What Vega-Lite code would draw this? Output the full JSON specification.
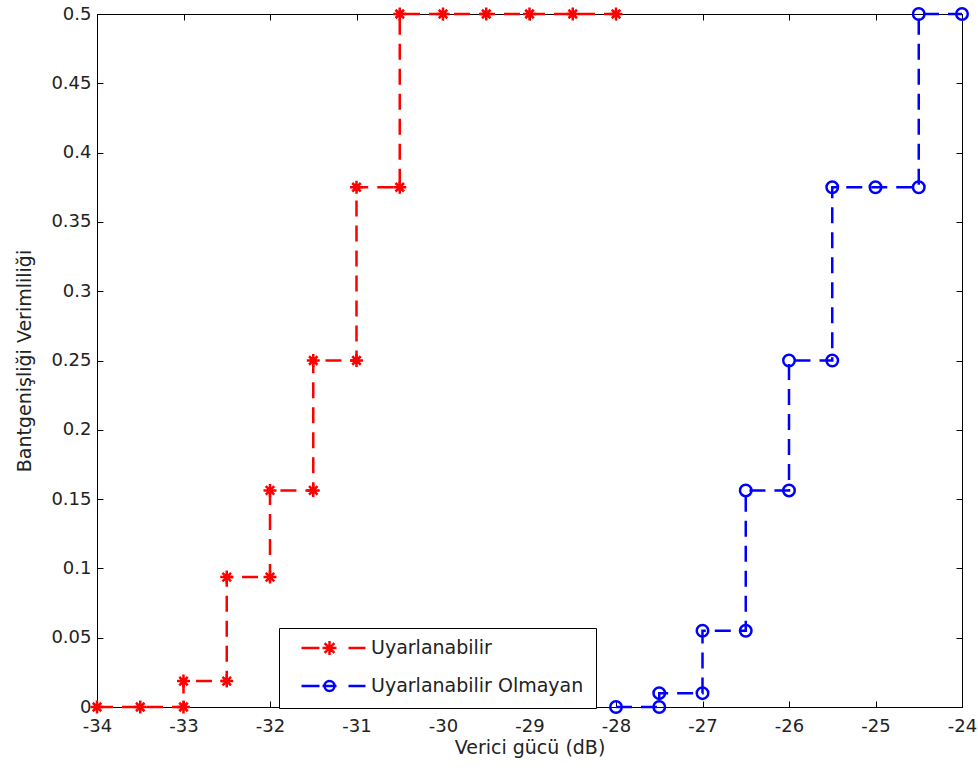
{
  "$schema": "https://vega.github.io/schema/vega-lite/v6.json",
  "width": 865,
  "height": 693,
  "autosize": {"type": "none"},
  "padding": {"left": 97, "top": 14, "right": 16, "bottom": 71},
  "background": "white",
  "config": {
    "view": {"stroke": "black", "strokeWidth": 1},
    "font": "DejaVu Sans",
    "axis": {
      "labelFont": "DejaVu Sans",
      "titleFont": "DejaVu Sans",
      "labelFontSize": 18,
      "titleFontSize": 19,
      "titleFontWeight": "normal",
      "labelColor": "#222222",
      "titleColor": "#222222",
      "domainColor": "black",
      "tickColor": "black",
      "grid": false,
      "tickSize": -6,
      "tickWidth": 1,
      "labelFlush": false,
      "labelOverlap": false
    }
  },
  "data": {
    "values": [
      {"series": "Uyarlanabilir", "i": 1, "x": -34, "y": 0},
      {"series": "Uyarlanabilir", "i": 2, "x": -33.5, "y": 0},
      {"series": "Uyarlanabilir", "i": 3, "x": -33, "y": 0},
      {"series": "Uyarlanabilir", "i": 4, "x": -33, "y": 0.01875},
      {"series": "Uyarlanabilir", "i": 5, "x": -32.5, "y": 0.01875},
      {"series": "Uyarlanabilir", "i": 6, "x": -32.5, "y": 0.09375},
      {"series": "Uyarlanabilir", "i": 7, "x": -32, "y": 0.09375},
      {"series": "Uyarlanabilir", "i": 8, "x": -32, "y": 0.15625},
      {"series": "Uyarlanabilir", "i": 9, "x": -31.5, "y": 0.15625},
      {"series": "Uyarlanabilir", "i": 10, "x": -31.5, "y": 0.25},
      {"series": "Uyarlanabilir", "i": 11, "x": -31, "y": 0.25},
      {"series": "Uyarlanabilir", "i": 12, "x": -31, "y": 0.375},
      {"series": "Uyarlanabilir", "i": 13, "x": -30.5, "y": 0.375},
      {"series": "Uyarlanabilir", "i": 14, "x": -30.5, "y": 0.5},
      {"series": "Uyarlanabilir", "i": 15, "x": -30, "y": 0.5},
      {"series": "Uyarlanabilir", "i": 16, "x": -29.5, "y": 0.5},
      {"series": "Uyarlanabilir", "i": 17, "x": -29, "y": 0.5},
      {"series": "Uyarlanabilir", "i": 18, "x": -28.5, "y": 0.5},
      {"series": "Uyarlanabilir", "i": 19, "x": -28, "y": 0.5},
      {"series": "Uyarlanabilir Olmayan", "i": 1, "x": -28, "y": 0},
      {"series": "Uyarlanabilir Olmayan", "i": 2, "x": -27.5, "y": 0},
      {"series": "Uyarlanabilir Olmayan", "i": 3, "x": -27.5, "y": 0.01},
      {"series": "Uyarlanabilir Olmayan", "i": 4, "x": -27, "y": 0.01},
      {"series": "Uyarlanabilir Olmayan", "i": 5, "x": -27, "y": 0.055},
      {"series": "Uyarlanabilir Olmayan", "i": 6, "x": -26.5, "y": 0.055},
      {"series": "Uyarlanabilir Olmayan", "i": 7, "x": -26.5, "y": 0.15625},
      {"series": "Uyarlanabilir Olmayan", "i": 8, "x": -26, "y": 0.15625},
      {"series": "Uyarlanabilir Olmayan", "i": 9, "x": -26, "y": 0.25},
      {"series": "Uyarlanabilir Olmayan", "i": 10, "x": -25.5, "y": 0.25},
      {"series": "Uyarlanabilir Olmayan", "i": 11, "x": -25.5, "y": 0.375},
      {"series": "Uyarlanabilir Olmayan", "i": 12, "x": -25, "y": 0.375},
      {"series": "Uyarlanabilir Olmayan", "i": 13, "x": -24.5, "y": 0.375},
      {"series": "Uyarlanabilir Olmayan", "i": 14, "x": -24.5, "y": 0.5},
      {"series": "Uyarlanabilir Olmayan", "i": 15, "x": -24, "y": 0.5}
    ]
  },
  "layer": [
    {
      "mark": {"type": "line", "strokeWidth": 2.5, "strokeDash": [16, 9]},
      "encoding": {
        "x": {
          "field": "x", "type": "quantitative",
          "scale": {"domain": [-34, -24], "nice": false, "zero": false},
          "axis": {
            "orient": "bottom",
            "title": "Verici gücü (dB)",
            "values": [-34, -33, -32, -31, -30, -29, -28, -27, -26, -25, -24],
            "labelExpr": "toString(datum.value)",
            "labelPadding": 16,
            "titlePadding": 3
          }
        },
        "y": {
          "field": "y", "type": "quantitative",
          "scale": {"domain": [0, 0.5], "nice": false, "zero": false},
          "axis": {
            "orient": "left",
            "title": "Bantgenişliği Verimliliği",
            "values": [0, 0.05, 0.1, 0.15, 0.2, 0.25, 0.3, 0.35, 0.4, 0.45, 0.5],
            "labelExpr": "toString(datum.value)",
            "labelPadding": 12,
            "titlePadding": 16
          }
        },
        "color": {
          "field": "series", "type": "nominal",
          "scale": {"domain": ["Uyarlanabilir", "Uyarlanabilir Olmayan"], "range": ["#ff0000", "#0000ff"]},
          "legend": {
            "orient": "none",
            "legendX": 182,
            "legendY": 614,
            "title": null,
            "strokeColor": "black",
            "fillColor": "white",
            "padding": 12,
            "labelFont": "DejaVu Sans",
            "labelFontSize": 19,
            "labelColor": "#222222",
            "labelLimit": 400,
            "symbolSize": 196,
            "symbolStrokeWidth": 2,
            "symbolOffset": 33,
            "labelOffset": 28,
            "clipHeight": 16,
            "rowPadding": 19,
            "encode": {
              "symbols": {
                "update": {
                  "shape": {"signal": "datum.value === 'Uyarlanabilir' ? 'M-4.57,0H-2M-1.57,0H0.43M2.14,0H4.57M-0.57,-1V1M-1.27,-0.7L0.13,0.7M-1.27,0.7L0.13,-0.7' : 'M-4.57,0H-2M-1.57,0H0.43M2.14,0H4.57M0.14,0A0.71,0.71 0 1,1 -1.28,0A0.71,0.71 0 1,1 0.14,0'"},
                  "size": {"value": 196},
                  "strokeWidth": {"value": 2.5},
                  "fill": {"value": "transparent"}
                }
              }
            }
          }
        },
        "order": {"field": "i", "type": "quantitative"}
      }
    },
    {
      "transform": [{"filter": "datum.series === 'Uyarlanabilir'"}],
      "mark": {"type": "point", "filled": false, "strokeWidth": 2.5, "opacity": 1, "size": 100, "color": "#ff0000",
        "shape": "M-1.3,0L1.3,0M0,-1.3L0,1.3M-0.85,-0.85L0.85,0.85M-0.85,0.85L0.85,-0.85"},
      "encoding": {
        "x": {
          "field": "x", "type": "quantitative",
          "axis": {"orient": "top", "title": null, "labels": false, "values": [-34, -33, -32, -31, -30, -29, -28, -27, -26, -25, -24]}
        },
        "y": {
          "field": "y", "type": "quantitative",
          "axis": {"orient": "right", "title": null, "labels": false, "values": [0, 0.05, 0.1, 0.15, 0.2, 0.25, 0.3, 0.35, 0.4, 0.45, 0.5]}
        }
      }
    },
    {
      "transform": [{"filter": "datum.series === 'Uyarlanabilir Olmayan'"}],
      "mark": {"type": "point", "filled": false, "strokeWidth": 2.5, "opacity": 1, "size": 100, "color": "#0000ff",
        "shape": "M1.15,0A1.15,1.15 0 1,1 -1.15,0A1.15,1.15 0 1,1 1.15,0"},
      "encoding": {
        "x": {"field": "x", "type": "quantitative", "axis": null},
        "y": {"field": "y", "type": "quantitative", "axis": null}
      }
    }
  ],
  "resolve": {"axis": {"x": "independent", "y": "independent"}}
}
